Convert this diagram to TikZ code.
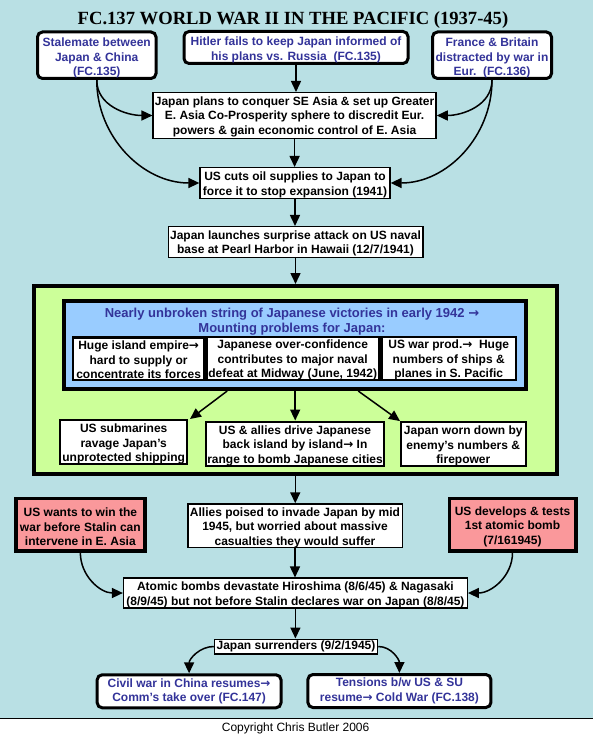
\documentclass[tikz,border=0pt]{standalone}
\usepackage{fontspec}
\setmainfont{Liberation Sans}
\newfontfamily\titlefont{Liberation Serif}
\newfontfamily\arrowfont{DejaVu Sans}
\newcommand\rarr{{\arrowfont\bfseries →}}
\newcommand\tsp[1]{\rule{0pt}{#1}}
\usetikzlibrary{arrows.meta}
\definecolor{bg}{RGB}{185,224,228}
\definecolor{grn}{RGB}{204,255,153}
\definecolor{blu}{RGB}{153,204,255}
\definecolor{redfill}{RGB}{250,152,155}
\definecolor{txtblue}{RGB}{51,51,153}
\tikzset{
  box/.style={draw, fill=white, line width=1.3pt, inner sep=0pt, align=center,
    font=\bfseries\fontsize{12}{14.5}\selectfont},
  wh/.style 2 args={minimum width=#1, minimum height=#2},
  rbox/.style={box, line width=3pt, rounded corners=5pt, text=txtblue},
  redbox/.style={box, line width=3.5pt, fill=redfill},
  subbox/.style={box, line width=2.5pt},
  gbox/.style={box, line width=2pt},
  arr/.style={line width=1.5pt, -{Triangle[length=11pt,width=10pt]}},
}
\begin{document}
\begin{tikzpicture}[x=1pt,y=-1pt]
\useasboundingbox (0,0) rectangle (593,735);
\fill[bg] (0,0) rectangle (593,718.3);
\fill[white] (0,718.3) rectangle (593,735);
\draw[line width=1pt] (0,718.3) -- (593,718.3);

\node[anchor=base, font=\titlefont\bfseries\fontsize{18.6}{20}\selectfont] (title) at (293,24.6)
  {FC.137 WORLD WAR II IN THE PACIFIC (1937-45)};
\node[anchor=base, font=\fontsize{12}{14}\selectfont] (copy) at (295.6,731.7) {Copyright Chris Butler 2006};

% top row
\node[rbox, wh={118.5pt}{46.5pt}] (s1) at (96.75,55.25) {\tsp{14.8pt}Stalemate between\\Japan \& China\\(FC.135)};
\node[rbox, wh={224pt}{32pt}] (s2) at (296,47.5) {\tsp{13pt}Hitler fails to keep Japan informed of\\his plans vs. Russia\ \ (FC.135)};
\node[rbox, wh={119pt}{46.5pt}] (s3) at (492,55.25) {\tsp{14.8pt}France \& Britain\\distracted by war in\\Eur.\ \ (FC.136)};

\node[box, wh={283pt}{45.7pt}] (p4) at (294.6,115.5) {\tsp{11pt}Japan plans to conquer SE Asia \& set up Greater\\E. Asia Co-Prosperity sphere to discredit Eur.\\powers \& gain economic control of E. Asia};
\node[box, wh={190pt}{30.7pt}] (p5) at (295,183) {\tsp{12pt}US cuts oil supplies to Japan to\\force it to stop expansion (1941)};
\node[box, wh={254.7pt}{30.7pt}] (p6) at (295.5,242) {\tsp{11pt}Japan launches surprise attack on US naval\\base at Pearl Harbor in Hawaii (12/7/1941)};

% green frame
\node[box, line width=4pt, fill=grn, wh={523.5pt}{188pt}] (green) at (295.25,380) {};
\node[box, line width=4pt, fill=blu, wh={462.4pt}{88pt}] (blue) at (295.2,345) {};
\node[align=center, text=txtblue, inner sep=0pt, font=\bfseries\fontsize{13}{15.4}\selectfont] (btitle) at (292,321.5)
  {Nearly unbroken string of Japanese victories in early 1942 \rarr\\Mounting problems for Japan:};
\node[subbox, wh={131pt}{42.5pt}] (sa) at (138.65,358.5) {\tsp{11.8pt}Huge island empire\rarr\\hard to supply or\\concentrate its forces};
\node[subbox, wh={172.1pt}{42.5pt}] (sb) at (292.7,358.5) {\tsp{11.8pt}Japanese over-confidence\\contributes to major naval\\defeat at Midway (June, 1942)};
\node[subbox, wh={134.9pt}{42.5pt}] (sc) at (448.7,358.5) {\tsp{11.8pt}US war prod.\rarr\ \ Huge\\numbers of ships \&\\planes in S. Pacific};

\node[gbox, wh={126.6pt}{42.3pt}] (p10) at (123.7,442.2) {\tsp{12.8pt}US submarines\\ravage Japan's\\unprotected shipping};
\node[gbox, wh={178.8pt}{42pt}] (p11) at (295,443.7) {\tsp{12.8pt}US \& allies drive Japanese\\back island by island\rarr\ In\\range to bomb Japanese cities};
\node[gbox, wh={124.5pt}{43pt}] (p12) at (463.25,444.2) {\tsp{12.8pt}Japan worn down by\\enemy's numbers \&\\firepower};

% lower part
\node[redbox, wh={129.2pt}{52.5pt}] (r13) at (80.35,524.7) {\tsp{12.8pt}US wants to win the\\war before Stalin can\\intervene in E. Asia};
\node[box, wh={214.3pt}{43.7pt}] (p14) at (295,525.8) {\tsp{12pt}Allies poised to invade Japan by mid\\1945, but worried about massive\\casualties they would suffer};
\node[redbox, wh={126.5pt}{52.2pt}] (r15) at (512.5,524.8) {\tsp{12.8pt}US develops \& tests\\1st atomic bomb\\(7/161945)};
\node[box, wh={343.7pt}{29.3pt}] (p16) at (295.4,593) {\tsp{12.8pt}Atomic bombs devastate Hiroshima (8/6/45) \& Nagasaki\\(8/9/45) but not before Stalin declares war on Japan (8/8/45)};
\node[box, wh={163.2pt}{14.7pt}] (p17) at (296,646.5) {Japan surrenders (9/2/1945)};
\node[rbox, wh={183.8pt}{33pt}] (c18) at (189.1,691.3) {Civil war in China resumes\rarr\\Comm's take over (FC.147)};
\node[rbox, wh={183pt}{33pt}] (c19) at (399.4,691) {Tensions b/w US \& SU\\resume\rarr\ Cold War (FC.138)};

% connectors
\draw[arr] (s2.south) -- (s2.south |- p4.north);
\draw[arr] (p4.south) -- (p4.south |- p5.north);
\draw[arr] (p5.south) -- (p5.south |- p6.north);
\draw[arr] (p6.south) -- (p6.south |- green.north);
\draw[arr] (s1.south) to[out=-90, in=180] (p4.west);
\draw[arr] (s1.south) to[out=-90, in=180] (p5.west);
\draw[arr] (s3.south) to[out=-90, in=0] (p4.east);
\draw[arr] (s3.south) to[out=-90, in=0] (p5.east);

\draw[arr] ([xshift=-68pt]blue.south) -- ([xshift=2pt]p10.north east);
\draw[arr] (blue.south) -- (blue.south |- p11.north);
\draw[arr] ([xshift=63pt]blue.south) -- (p12.north west);

\draw[arr] (green.south) -- (green.south |- p14.north);
\draw[arr] (p14.south) -- (p14.south |- p16.north);
\draw[arr] (p16.south) -- (p16.south |- p17.north);
\draw[arr] (r13.south) to[out=-90, in=180] (p16.west);
\draw[arr] (r15.south) to[out=-90, in=0] (p16.east);
\draw[arr] (p17.west) to[out=180, in=90] (c18.north);
\draw[arr] (p17.east) to[out=0, in=90] (c19.north);
\end{tikzpicture}
\end{document}
